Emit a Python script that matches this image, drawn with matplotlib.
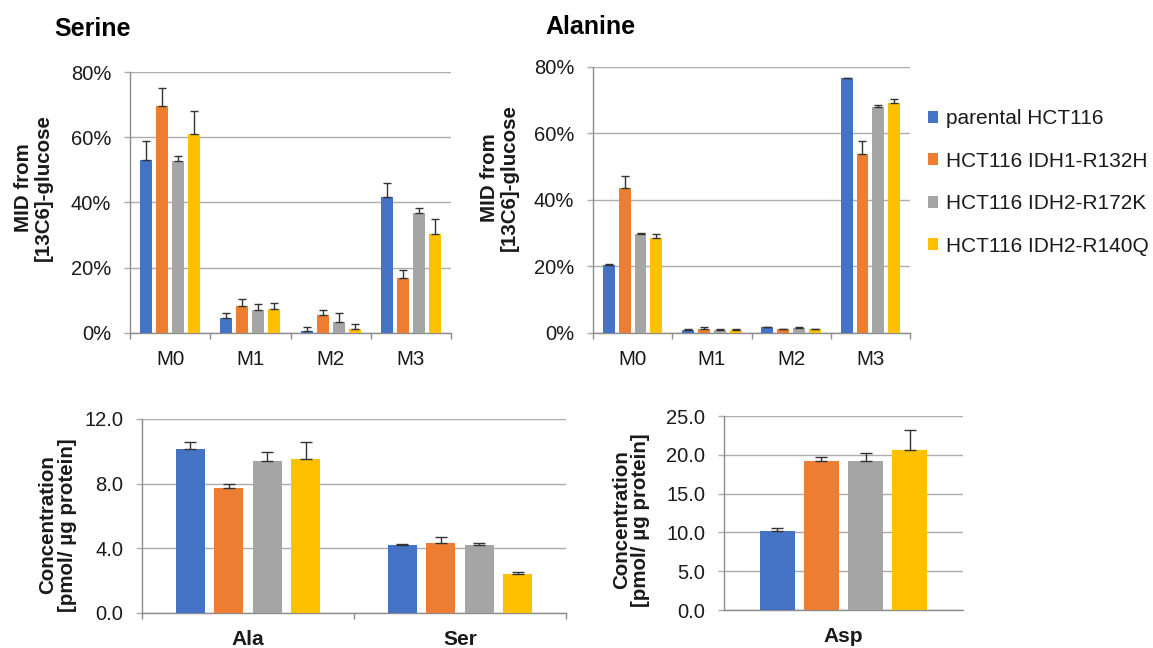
import numpy as np
import matplotlib
matplotlib.use("Agg")
import matplotlib.pyplot as plt
from matplotlib.patches import Patch
from matplotlib.ticker import FixedLocator, FuncFormatter

plt.rcParams['font.family'] = ['Liberation Sans', 'DejaVu Sans']

# ---------------- data ----------------
series = ["parental HCT116", "HCT116 IDH1-R132H", "HCT116 IDH2-R172K", "HCT116 IDH2-R140Q"]
colors = ["#4472C4", "#ED7D31", "#A5A5A5", "#FFC000"]

mid_cats = ["M0", "M1", "M2", "M3"]
serine_vals = [
    [52.9, 4.6, 0.7, 41.8],
    [69.5, 8.3, 5.4, 16.9],
    [52.6, 6.9, 3.4, 36.9],
    [61.0, 7.3, 1.2, 30.2],
]
serine_err = [
    [6.0, 1.4, 1.2, 4.3],
    [5.5, 2.2, 1.8, 2.3],
    [1.8, 2.0, 2.6, 1.5],
    [7.1, 1.8, 1.6, 4.8],
]
alanine_vals = [
    [20.5, 1.0, 1.7, 76.6],
    [43.6, 1.3, 1.1, 53.9],
    [29.7, 0.8, 1.4, 68.1],
    [28.6, 1.0, 1.1, 69.1],
]
alanine_err = [
    [0.2, 0.1, 0.1, 0.1],
    [3.7, 0.5, 0.1, 3.8],
    [0.5, 0.3, 0.4, 0.6],
    [1.3, 0.2, 0.1, 1.4],
]

conc_cats = ["Ala", "Ser"]
conc_vals = [
    [10.13, 4.18],
    [7.72, 4.34],
    [9.40, 4.18],
    [9.55, 2.43],
]
conc_err = [
    [0.43, 0.08],
    [0.23, 0.39],
    [0.56, 0.12],
    [1.00, 0.10],
]

asp_cats = ["Asp"]
asp_vals = [[10.12], [19.25], [19.17], [20.67]]
asp_err = [[0.39], [0.47], [1.10], [2.53]]

pct_ticks = [0, 20, 40, 60, 80]
ala_ser_ticks = [0.0, 4.0, 8.0, 12.0]
asp_ticks = [0.0, 5.0, 10.0, 15.0, 20.0, 25.0]

# ---------------- layout ----------------
W, H = 1153, 648
fig = plt.figure(figsize=(W / 100, H / 100), dpi=100)

GRID = "#ADADAD"
SPINE = "#8C8C8C"
TXT = "#1A1A1A"


def px_axes(x0, y0, x1, y1):
    return fig.add_axes([x0 / W, 1 - y1 / H, (x1 - x0) / W, (y1 - y0) / H])


def draw(ax, cats, vals, errs, ticks, fmt, width, step, capsize, boundary_ticks, xlab_bold, xlab_size):
    n = len(cats)
    centers = np.arange(n) + 0.5
    for i, (v, e, c) in enumerate(zip(vals, errs, colors)):
        x = centers + (i - 1.5) * step
        ax.bar(x, v, width=width, color=c, zorder=3,
               yerr=[np.zeros(len(e)), e], capsize=capsize,
               error_kw=dict(ecolor="#333333", elinewidth=1.0, capthick=1.0, zorder=4))
    ax.set_xlim(0, n)
    ax.set_ylim(ticks[0], ticks[-1])
    ax.yaxis.set_major_locator(FixedLocator(ticks))
    ax.yaxis.set_major_formatter(FuncFormatter(fmt))
    ax.grid(axis="y", color=GRID, linewidth=1.0, zorder=0)
    ax.set_axisbelow(True)
    for s in ("top", "right"):
        ax.spines[s].set_visible(False)
    for s in ("left", "bottom"):
        ax.spines[s].set_color(SPINE)
        ax.spines[s].set_linewidth(1.0)
    ax.tick_params(axis="y", length=4.5, width=1.0, color=GRID, pad=9,
                   labelsize=14.5, labelcolor=TXT)
    ax.set_xticks(centers)
    ax.set_xticklabels(cats, fontweight="bold" if xlab_bold else "normal",
                       fontsize=xlab_size, color=TXT)
    ax.tick_params(axis="x", which="major", length=0, pad=12)
    if boundary_ticks:
        ax.set_xticks(np.arange(n + 1), minor=True)
        ax.tick_params(axis="x", which="minor", length=4.5, width=1.0, color=SPINE)


pct_fmt = lambda v, p: f"{v:.0f}%"
dec_fmt = lambda v, p: f"{v:.1f}"

ax1 = px_axes(130, 72, 451, 333)
draw(ax1, mid_cats, serine_vals, serine_err, pct_ticks, pct_fmt, 0.15, 0.2, 3.2, True, False, 14.8)

ax2 = px_axes(593, 67, 910, 333)
draw(ax2, mid_cats, alanine_vals, alanine_err, pct_ticks, pct_fmt, 0.15, 0.2, 3.2, True, False, 14.8)

ax3 = px_axes(142, 419, 566, 613)
draw(ax3, conc_cats, conc_vals, conc_err, ala_ser_ticks, dec_fmt, 0.137, 0.181, 4.2, True, True, 15)

ax4 = px_axes(724, 416, 963, 610)
draw(ax4, asp_cats, asp_vals, asp_err, asp_ticks, dec_fmt, 0.145, 0.185, 4.2, False, True, 15)

# titles
fig.text(54 / W, 1 - 29 / H, "Serine", fontsize=18, fontweight="bold", color="black",
         ha="left", va="center")
fig.text(545 / W, 1 - 27 / H, "Alanine", fontsize=18, fontweight="bold", color="black",
         ha="left", va="center")

# y labels
def ylab(xc, yc, text):
    fig.text(xc / W, 1 - yc / H, text, rotation=90, ha="center", va="center",
             multialignment="center", fontsize=14.8, fontweight="bold", color=TXT,
             linespacing=1.05)

ylab(33, 188, "MID from\n[13C6]-glucose")
ylab(499, 178, "MID from\n[13C6]-glucose")
ylab(58, 525, "Concentration\n[pmol/ µg protein]")
ylab(631, 520, "Concentration\n[pmol/ µg protein]")

# legend
handles = [Patch(facecolor=c, edgecolor="none") for c in colors]
fig.legend(handles, series, loc="center left", bbox_to_anchor=(928 / W, 1 - 182.5 / H),
           frameon=False, fontsize=15, handlelength=0.5, handleheight=0.5,
           handletextpad=0.35, labelspacing=1.13, borderpad=0, borderaxespad=0,
           labelcolor=TXT)

fig.savefig("out.png", dpi=100)
